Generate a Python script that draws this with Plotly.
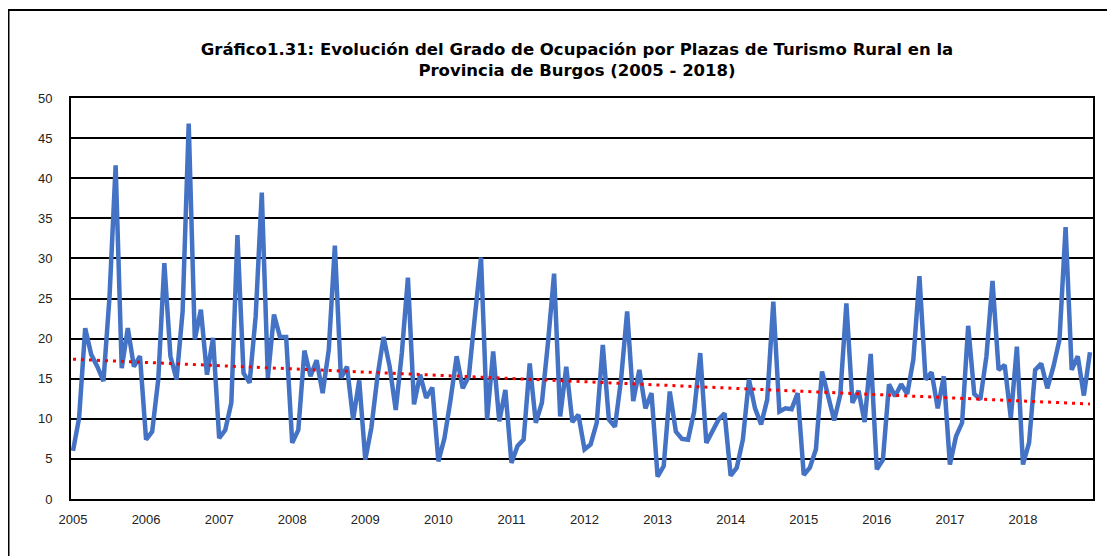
import numpy as np
import plotly.graph_objects as go

years = list(range(2005, 2019))
year_labels = [str(y) for y in years]

ocupacion = [
    # 2005
    6.0, 10.1, 21.3, 18.0, 16.5, 14.7, 25.3, 41.6, 16.3, 21.3, 16.5, 17.8,
    # 2006
    7.4, 8.4, 14.9, 29.4, 17.8, 14.9, 23.4, 46.8, 19.9, 23.6, 15.5, 20.1,
    # 2007
    7.6, 8.6, 12.0, 32.9, 15.7, 14.5, 22.8, 38.2, 15.1, 23.0, 20.2, 20.2,
    # 2008
    7.0, 8.6, 18.5, 15.3, 17.3, 13.2, 18.6, 31.6, 15.1, 16.5, 9.9, 14.8,
    # 2009
    4.9, 8.9, 15.3, 20.2, 16.5, 11.1, 18.2, 27.6, 11.8, 15.5, 12.6, 13.9,
    # 2010
    4.7, 7.6, 12.4, 17.8, 13.8, 15.3, 22.8, 30.1, 9.9, 18.4, 9.7, 13.6,
    # 2011
    4.5, 6.6, 7.4, 16.9, 9.5, 12.0, 19.5, 28.1, 10.3, 16.5, 9.6, 10.5,
    # 2012
    6.2, 6.8, 9.5, 19.2, 9.9, 9.0, 14.9, 23.4, 12.2, 16.1, 11.3, 13.2,
    # 2013
    2.8, 4.1, 13.4, 8.4, 7.5, 7.4, 10.9, 18.2, 7.0, 8.6, 9.9, 10.7,
    # 2014
    2.9, 3.9, 7.4, 14.9, 11.3, 9.3, 12.4, 24.6, 10.9, 11.3, 11.2, 13.2,
    # 2015
    3.0, 3.9, 6.2, 15.9, 12.8, 9.8, 13.0, 24.4, 12.0, 13.5, 9.6, 18.1,
    # 2016
    3.7, 4.9, 14.3, 12.8, 14.3, 13.1, 17.4, 27.8, 14.9, 15.8, 11.3, 15.3,
    # 2017
    4.3, 7.8, 9.5, 21.6, 13.1, 12.4, 17.8, 27.2, 16.1, 16.7, 10.1, 19.0,
    # 2018
    4.3, 7.0, 16.1, 16.9, 13.8, 16.5, 19.9, 33.9, 16.1, 17.8, 12.9, 18.3,
]

idx = np.arange(len(ocupacion))
slope, intercept = np.polyfit(idx, np.array(ocupacion), 1)
trend = slope * idx + intercept

fig = go.Figure()
fig.add_trace(go.Scatter(
    x=idx, y=ocupacion, mode="lines",
    line=dict(color="#4472C4", width=4.5),
    showlegend=False, hoverinfo="skip",
))
fig.add_trace(go.Scatter(
    x=idx, y=trend, mode="lines",
    line=dict(color="#FF0000", width=3, dash="3px,5px"),
    showlegend=False, hoverinfo="skip",
))

# page body adds an 8px offset; figure coordinates below are window coords - 8
W, H = 1107, 548
L, T = 63, 90
R = W - 1085
B = H - 491
pw = W - L - R
ph = H - T - B

def px_x(p):
    return (p - L) / pw

def px_y(p):
    return (H - B - p) / ph

fig.add_shape(type="rect", xref="paper", yref="paper",
              x0=px_x(0.5), x1=px_x(1101), y0=px_y(600), y1=px_y(2),
              line=dict(color="black", width=2), fillcolor="rgba(0,0,0,0)",
              layer="below")

fig.update_layout(
    width=W, height=H,
    margin=dict(l=L, r=R, t=T, b=B, autoexpand=False),
    paper_bgcolor="white", plot_bgcolor="white",
    font=dict(family="Liberation Sans, Arial, sans-serif", size=13, color="black"),
    title=dict(
        text="Gráfico1.31: Evolución del Grado de Ocupación por Plazas de Turismo Rural en la<br>Provincia de Burgos (2005 - 2018)",
        x=569 / W, xref="container", xanchor="center",
        y=1 - 47 / H, yref="container", yanchor="middle",
        font=dict(family="DejaVu Sans, Verdana, sans-serif", size=16.5, color="black", weight="bold"),
    ),
    xaxis=dict(
        range=[-0.33, 167.5],
        tickmode="array",
        tickvals=[i * 12 for i in range(len(years))],
        ticktext=year_labels,
        showgrid=False, zeroline=False,
        showline=True, linecolor="black", linewidth=1.5, mirror=True,
        ticks="", ticklabelstandoff=8,
        tickfont=dict(size=13, color="#222222"),
    ),
    yaxis=dict(
        range=[0, 50], dtick=5, tick0=0,
        showgrid=True, gridcolor="black", gridwidth=1.5,
        zeroline=False,
        showline=True, linecolor="black", linewidth=2, mirror=True,
        ticks="", ticklabelstandoff=14,
        tickfont=dict(size=13, color="#222222"),
    ),
)

fig.write_html("out.html")
